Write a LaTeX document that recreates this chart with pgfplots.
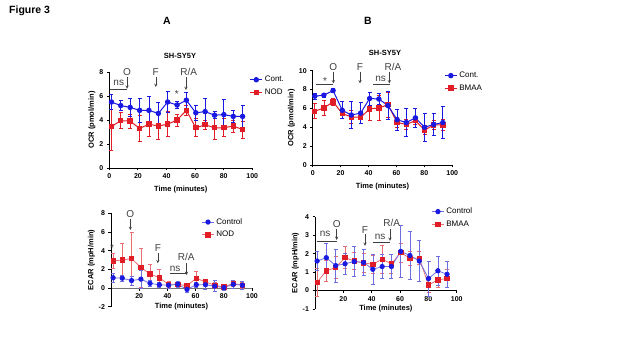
\documentclass[border=0pt]{standalone}
\usepackage{fontspec}
\setmainfont{Liberation Sans}
\usepackage{pgfplots}
\usepackage{pgfplotstable}
\pgfplotsset{compat=1.18}
\definecolor{cblue}{RGB}{25,25,225}
\definecolor{cred}{RGB}{225,30,40}
\definecolor{lblue}{RGB}{110,110,225}
\definecolor{lred}{RGB}{235,110,115}

\pgfplotstableread{
x c ce t te
1.5 5.5 0.65 3.45 1.95
8.0 5.2 0.4 3.95 0.65
14.6 5.05 0.75 3.9 0.6
21.2 4.8 1.0 3.3 1.1
27.7 4.8 1.2 3.65 1.05
34.3 4.55 0.95 3.5 1.1
40.8 5.5 0.85 3.65 1.05
47.4 5.25 0.3 4.0 0.5
53.9 5.65 0.65 4.8 0.4
60.5 4.6 0.6 3.35 0.75
67.0 4.7 1.1 3.6 0.4
73.6 4.4 0.3 3.35 0.95
80.1 4.45 1.25 3.35 0.75
86.7 4.3 0.5 3.5 0.5
93.2 4.3 0.9 3.2 0.7
}\dataAt

\pgfplotstableread{
x c ce t te
1.5 7.3 0.3 5.7 0.8
8.0 7.4 0.2 6.05 0.8
14.6 7.9 0.2 6.7 0.4
21.2 5.8 0.9 5.45 0.5
27.7 5.3 1.4 5.1 0.7
34.3 5.5 1.1 5.05 0.6
40.8 7.05 0.7 5.95 1.2
47.4 7.0 0.6 6.05 1.3
53.9 6.3 1.5 6.4 1.3
60.5 4.8 1.1 4.5 0.5
67.0 4.5 1.5 4.3 0.5
73.6 5.0 1.0 4.7 0.4
80.1 4.0 1.5 3.7 0.5
86.7 4.3 1.2 4.25 0.5
93.2 4.5 1.7 4.25 0.6
}\dataBt

\pgfplotstableread{
x c ce t te
1.5 1.1 0.5 2.9 0.8
8.0 1.05 0.3 3.0 1.75
14.6 0.8 0.5 3.15 2.85
21.2 0.95 1.0 2.2 2.1
27.7 0.5 0.3 1.5 1.05
34.3 0.35 0.3 1.1 0.9
40.8 0.3 0.3 0.4 0.3
47.4 0.4 0.3 0.4 0.3
53.9 -0.15 0.35 0.25 0.3
60.5 0.35 0.3 1.05 0.75
67.0 0.35 0.5 0.65 0.3
73.6 0.2 0.6 0.3 0.3
80.1 0.05 0.3 0.1 0.3
86.7 0.4 0.4 0.5 0.3
93.2 0.3 0.4 0.3 0.3
}\dataAb

\pgfplotstableread{
x c ce t te
1.5 1.6 0.5 0.45 0.75
8.0 1.78 0.8 1.07 0.55
14.6 1.35 0.9 1.25 0.6
21.2 1.45 0.55 1.78 0.6
27.7 1.57 0.8 1.6 0.45
34.3 1.52 0.7 1.5 0.5
40.8 1.15 0.8 1.42 0.5
47.4 1.3 0.65 1.7 0.75
53.9 1.3 0.65 1.45 0.5
60.5 2.12 1.4 2.05 0.5
67.0 1.9 1.3 1.75 0.4
73.6 1.6 1.1 1.75 0.35
80.1 0.65 0.95 0.3 0.4
86.7 1.07 0.8 0.58 0.4
93.2 0.88 0.7 0.65 0.5
}\dataBb

\pgfplotsset{
  base/.style={
    scale only axis, anchor=south west,
    axis y line*=left,
    tick align=outside, major tick length=2.5pt,
    xmin=0, xmax=100, clip=false,
    axis line style={line width=0.9pt, black},
    tick style={line width=0.9pt, black},
    /pgf/number format/assume math mode=true,
    tick label style={font=\fontsize{7}{8}\selectfont\bfseries},
    label style={font=\fontsize{7.5}{9}\selectfont\bfseries},
    ylabel shift=-3pt,
    legend cell align=left,
    reverse legend,
    legend image code/.code={\draw[mark repeat=2,mark phase=2,##1] plot coordinates {(0pt,0pt) (6pt,0pt) (12pt,0pt)};},
    legend style={draw=none, fill=none, font=\fontsize{8}{9}\selectfont, row sep=1.5pt, anchor=north west},
    every node/.append style={font=\fontsize{8}{9}\selectfont},
  },
  ebar/.style={error bars/.cd, y dir=both, y explicit,
    error bar style={line width=0.7pt},
    error mark options={rotate=90, mark size=2pt, line width=0.7pt}},
}

\begin{document}
\begin{tikzpicture}
\useasboundingbox (0pt,0pt) rectangle (624pt,351pt);
\node[anchor=base west, font=\fontsize{10.5}{12}\selectfont\bfseries, inner sep=0pt] at (9pt,337pt) {Figure 3};
\node[anchor=base, font=\fontsize{10.5}{12}\selectfont\bfseries, inner sep=0pt] at (167pt,326pt) {A};
\node[anchor=base, font=\fontsize{10.5}{12}\selectfont\bfseries, inner sep=0pt] at (368pt,326pt) {B};
\node[anchor=base, font=\fontsize{7.5}{9}\selectfont\bfseries, inner sep=0pt] at (180pt,292pt) {SH-SY5Y};
\node[anchor=base, font=\fontsize{7.5}{9}\selectfont\bfseries, inner sep=0pt] at (385pt,295pt) {SH-SY5Y};

% ---------- A top ----------
\begin{axis}[base, at={(109.3pt,183pt)}, width=143pt, height=96pt,
  axis x line*=bottom, ymin=0, ymax=8, ytick={0,2,4,6,8}, xtick={0,20,...,100},
  xlabel={Time (minutes)}, ylabel={OCR (pmol/min)},
  legend style={at={(rel axis cs:0.96,1.0)}}]
\addplot[color=cred, line width=1pt, mark=square*, mark size=2.2pt, ebar] table[x=x, y=t, y error=te] {\dataAt};
\addplot[color=cblue, line width=1pt, mark=*, mark size=2.2pt, ebar] table[x=x, y=c, y error=ce] {\dataAt};
\legend{NOD, Cont.}
\draw[line width=0.5pt, black!75] (axis cs:0.5,6.56) -- (axis cs:12.2,6.56);
\node[black!75] at (axis cs:6.6,7.1) {ns};
\node[black!75] at (axis cs:12.4,8.0) {O};
\draw[->, >=stealth, line width=0.5pt, black!75] (axis cs:12.4,7.55) -- (axis cs:12.4,6.6);
\node[black!75] at (axis cs:32.5,8.0) {F};
\draw[->, >=stealth, line width=0.5pt, black!75] (axis cs:32.5,7.55) -- (axis cs:32.5,6.75);
\node[black!75] at (axis cs:55.5,8.0) {R/A};
\draw[->, >=stealth, line width=0.5pt, black!75] (axis cs:53.6,7.55) -- (axis cs:53.6,6.5);
\node[black!75] at (axis cs:47.2,6.2) {*};
\end{axis}

% ---------- B top ----------
\begin{axis}[base, at={(312.7pt,186pt)}, width=139.6pt, height=94.3pt,
  axis x line*=bottom, ymin=0, ymax=10, ytick={0,2,4,6,8,10}, xtick={0,20,...,100},
  xlabel={Time (minutes)}, ylabel={OCR (pmol/min)},
  legend style={at={(rel axis cs:0.92,1.03)}}]
\addplot[color=cred, line width=1pt, mark=square*, mark size=2.2pt, ebar] table[x=x, y=t, y error=te] {\dataBt};
\addplot[color=cblue, line width=1pt, mark=*, mark size=2.2pt, ebar] table[x=x, y=c, y error=ce] {\dataBt};
\legend{BMAA, Cont.}
\draw[line width=0.5pt, black!75] (axis cs:2.4,8.55) -- (axis cs:14.8,8.55);
\node[black!75] at (axis cs:8.8,8.9) {*};
\node[black!75] at (axis cs:14.8,10.4) {O};
\draw[->, >=stealth, line width=0.5pt, black!75] (axis cs:14.8,9.9) -- (axis cs:14.8,8.65);
\node[black!75] at (axis cs:33.9,10.4) {F};
\draw[->, >=stealth, line width=0.5pt, black!75] (axis cs:33.9,9.9) -- (axis cs:33.9,8.65);
\draw[line width=0.5pt, black!75] (axis cs:43.4,8.55) -- (axis cs:55.4,8.55);
\node[black!75] at (axis cs:48.7,9.1) {ns};
\node[black!75] at (axis cs:57.5,10.4) {R/A};
\draw[->, >=stealth, line width=0.5pt, black!75] (axis cs:54.9,9.9) -- (axis cs:54.9,8.65);
\end{axis}

% ---------- A bottom ----------
\begin{axis}[base, at={(111pt,44.3pt)}, width=141pt, height=93.4pt,
  axis x line*=middle, x axis line style={black!55},
  ymin=-2, ymax=8, ytick={-2,0,2,4,6,8}, xtick={20,40,...,100},
  ylabel={ECAR (mpH/min)},
  legend style={at={(rel axis cs:0.62,0.99)}}]
\addplot[color=lred, line width=0.8pt, mark=square*, mark size=2.2pt, mark options={fill=cred, draw=cred},
  error bars/.cd, y dir=both, y explicit, error bar style={line width=0.6pt, lred},
  error mark options={rotate=90, mark size=2pt, line width=0.6pt, lred}] table[x=x, y=t, y error=te] {\dataAb};
\addplot[color=lblue, line width=0.8pt, mark=*, mark size=2.2pt, mark options={fill=cblue, draw=cblue},
  error bars/.cd, y dir=both, y explicit, error bar style={line width=0.6pt, lblue},
  error mark options={rotate=90, mark size=2pt, line width=0.6pt, lblue}] table[x=x, y=c, y error=ce] {\dataAb};
\legend{NOD, Control}
\node[font=\fontsize{7.5}{9}\selectfont\bfseries] at (axis cs:50,-1.95) {Time (minutes)};
\node[black!75] at (axis cs:0.8,4.3) {*};
\node[black!75] at (axis cs:13.7,7.9) {O};
\draw[->, >=stealth, line width=0.5pt, black!75] (axis cs:13.7,7.4) -- (axis cs:13.7,6.2);
\node[black!75] at (axis cs:33.2,4.25) {F};
\draw[->, >=stealth, line width=0.5pt, black!75] (axis cs:33.2,3.8) -- (axis cs:33.2,2.65);
\draw[line width=0.5pt, black!75] (axis cs:41.5,1.57) -- (axis cs:53.3,1.57);
\node[black!75] at (axis cs:45.5,2.0) {ns};
\node[black!75] at (axis cs:53.3,3.3) {R/A};
\draw[->, >=stealth, line width=0.5pt, black!75] (axis cs:53.6,2.7) -- (axis cs:53.6,1.4);
\end{axis}

% ---------- B bottom ----------
\begin{axis}[base, at={(315pt,42pt)}, width=141.7pt, height=92.3pt,
  axis x line*=middle,
  ymin=-1, ymax=4, ytick={-1,0,1,2,3,4}, xtick={20,40,...,100},
  ylabel={ECAR (mpH/min)},
  legend style={at={(rel axis cs:0.8,1.14)}}]
\addplot[color=lred, line width=0.8pt, mark=square*, mark size=2.2pt, mark options={fill=cred, draw=cred},
  error bars/.cd, y dir=both, y explicit, error bar style={line width=0.6pt, lred},
  error mark options={rotate=90, mark size=2pt, line width=0.6pt, lred}] table[x=x, y=t, y error=te] {\dataBb};
\addplot[color=lblue, line width=0.8pt, mark=*, mark size=2.2pt, mark options={fill=cblue, draw=cblue},
  error bars/.cd, y dir=both, y explicit, error bar style={line width=0.6pt, lblue},
  error mark options={rotate=90, mark size=2pt, line width=0.6pt, lblue}] table[x=x, y=c, y error=ce] {\dataBb};
\legend{BMAA, Control}
\node[font=\fontsize{7.5}{9}\selectfont\bfseries] at (axis cs:50,-0.97) {Time (minutes)};
\draw[line width=0.5pt, black!75] (axis cs:1.2,2.69) -- (axis cs:15.3,2.69);
\node[black!75] at (axis cs:7.1,3.08) {ns};
\node[black!75] at (axis cs:15.3,3.62) {O};
\draw[->, >=stealth, line width=0.5pt, black!75] (axis cs:15.3,3.35) -- (axis cs:15.3,2.74);
\node[black!75] at (axis cs:35.3,3.26) {F};
\draw[->, >=stealth, line width=0.5pt, black!75] (axis cs:35.3,3.05) -- (axis cs:35.3,2.42);
\draw[line width=0.5pt, black!75] (axis cs:40.7,2.64) -- (axis cs:52.9,2.64);
\node[black!75] at (axis cs:45.9,2.92) {ns};
\node[black!75] at (axis cs:54.1,3.64) {R/A};
\draw[->, >=stealth, line width=0.5pt, black!75] (axis cs:52.9,3.35) -- (axis cs:52.9,2.69);
\end{axis}
\end{tikzpicture}
\end{document}
